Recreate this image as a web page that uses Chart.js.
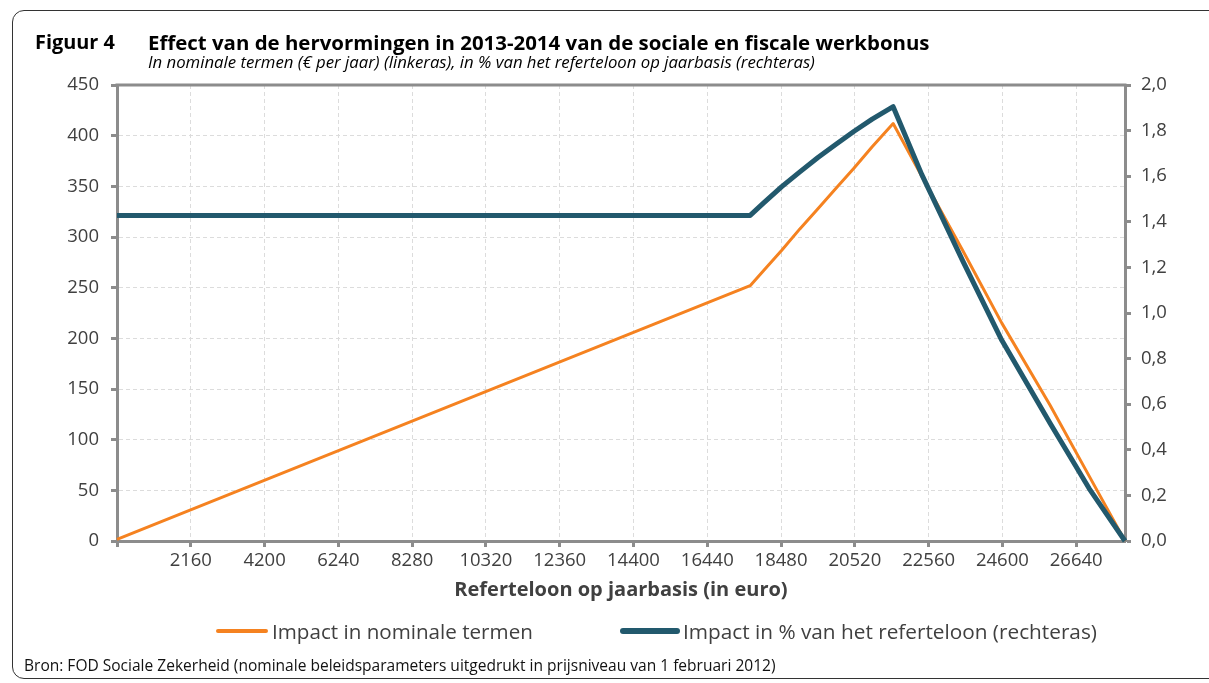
<!DOCTYPE html>
<html>
<head>
<meta charset="utf-8">
<script src="https://cdn.jsdelivr.net/npm/chart.js@4.4.1/dist/chart.umd.min.js"></script>
<style>
  body { margin: 0; background: #fff; }
  #wrap { position: relative; width: 1209px; height: 683px; overflow: hidden; }
  #frame { position: absolute; left: 12px; top: 10px; width: 1240px; height: 667px;
           border: 1.5px solid #333; border-radius: 12px; }
  #chart { position: absolute; left: 0; top: 0; }
  .t { position: absolute; white-space: nowrap; color: #000; line-height: 1; }
  #fig { left: 35px; top: 28px; font: bold 18px "Open Sans", sans-serif; }
  #title { left: 148px; top: 28px; font: bold 18px "Open Sans", sans-serif; }
  #sub { left: 148px; top: 50px; font: italic 13px "Open Sans", sans-serif; }
  #src { left: 24px; top: 654px; font: 13px "Open Sans", sans-serif; color: #111; }
  .leg { position: absolute; top: 620px; font: 19px "Open Sans", sans-serif; color: #404040;
         white-space: nowrap; line-height: 22px; }
  .leg i { position: absolute; border-radius: 3px; }
</style>
</head>
<body>
<div id="wrap">
  <div id="frame"></div>
  <canvas id="chart" width="1209" height="683"></canvas>
  <div class="t" id="fig">Figuur 4</div>
  <div class="t" id="title">Effect van de hervormingen in 2013-2014 van de sociale en fiscale werkbonus</div>
  <div class="t" id="sub">In nominale termen (€ per jaar) (linkeras), in % van het referteloon op jaarbasis (rechteras)</div>
  <div class="leg" id="leg1" style="left:272px"><i style="left:-56px;top:9px;width:52px;height:4px;background:#f58220"></i>Impact in nominale termen</div>
  <div class="leg" id="leg2" style="left:683px"><i style="left:-63px;top:8px;width:60px;height:6px;background:#22596d"></i>Impact in % van het referteloon (rechteras)</div>
  <div class="t" id="src">Bron: FOD Sociale Zekerheid (nominale beleidsparameters uitgedrukt in prijsniveau van 1 februari 2012)</div>
</div>
<script>
// data
let wages = [120, 17626, 18000, 18500, 19000, 19500, 20000, 20500, 21000, 21580, 22372, 23500, 24584, 25919, 27000, 27990];
let impactEuro = [1.7, 252, 267, 287, 308, 328, 348, 368, 389, 412, 360, 287, 215, 134, 64, 0];
let impactPct = [1.428, 1.428, 1.483, 1.554, 1.619, 1.682, 1.74, 1.797, 1.85, 1.905, 1.607, 1.23, 0.88, 0.516, 0.23, 0];

let xTicks = [120, 2160, 4200, 6240, 8280, 10320, 12360, 14400, 16440, 18480, 20520, 22560, 24600, 26640];
let leftTicks = [0, 50, 100, 150, 200, 250, 300, 350, 400, 450];
let rightTicks = [0, 0.2, 0.4, 0.6, 0.8, 1.0, 1.2, 1.4, 1.6, 1.8, 2.0];

// stretch the html texts to the widths they have in the original figure
function fitWidth(id, w) {
  let el = document.getElementById(id);
  let size = parseFloat(getComputedStyle(el).fontSize);
  let now = el.getBoundingClientRect().width;
  el.style.fontSize = (size * w / now).toFixed(2) + "px";
}
fitWidth("fig", 80);
fitWidth("title", 782);
fitWidth("sub", 667);
fitWidth("src", 752);
fitWidth("leg1", 261);
fitWidth("leg2", 414);

const axisGray = "#8c8c8c";
const gridGray = "#dcdcdc";
const tickFont = { family: "Open Sans", size: 18.5 };

function axisStyle() {
  return {
    grid: { color: gridGray, lineWidth: 1, tickColor: axisGray, tickWidth: 3, tickLength: 6 },
    border: { color: axisGray, width: 3, dash: [4, 3] },
    ticks: { font: tickFont, color: "#404040", autoSkip: false, maxRotation: 0 }
  };
}

// gray line closing the top of the plot area
const topLine = {
  id: "topLine",
  beforeDatasetsDraw(chart) {
    let a = chart.chartArea;
    let ctx = chart.ctx;
    ctx.save();
    ctx.strokeStyle = axisGray;
    ctx.lineWidth = 3;
    ctx.beginPath();
    ctx.moveTo(a.left - 1.5, a.top);
    ctx.lineTo(a.right + 1.5, a.top);
    ctx.stroke();
    ctx.restore();
  }
};

let x = axisStyle();
x.type = "linear";
x.min = 120;
x.max = 27990;
x.afterBuildTicks = s => { s.ticks = xTicks.map(v => ({ value: v })); };
x.ticks.callback = v => (v === 120 ? "" : String(v));
x.ticks.padding = 3;
x.title = { display: true, text: "Referteloon op jaarbasis (in euro)",
            font: { family: "Open Sans", size: 20, weight: "bold" }, color: "#404040",
            padding: { top: 4, bottom: 4 } };
x.afterFit = s => { s.height = 65; };

let y = axisStyle();
y.position = "left";
y.min = 0;
y.max = 450;
y.afterBuildTicks = s => { s.ticks = leftTicks.map(v => ({ value: v })); };
y.ticks.padding = 12;
y.afterFit = s => { s.width = 117; };

let y1 = axisStyle();
y1.position = "right";
y1.min = 0;
y1.max = 2;
y1.grid.drawOnChartArea = false;
y1.afterBuildTicks = s => { s.ticks = rightTicks.map(v => ({ value: v })); };
y1.ticks.callback = v => v.toFixed(1).replace(".", ",");
y1.ticks.padding = 10;
y1.afterFit = s => { s.width = 84; };

new Chart(document.getElementById("chart"), {
  type: "line",
  data: {
    datasets: [
      {
        label: "Impact in nominale termen",
        data: wages.map((w, i) => ({ x: w, y: impactEuro[i] })),
        yAxisID: "y",
        borderColor: "#f58220",
        borderWidth: 3,
        order: 2
      },
      {
        label: "Impact in % van het referteloon (rechteras)",
        data: wages.map((w, i) => ({ x: w, y: impactPct[i] })),
        yAxisID: "y1",
        borderColor: "#22596d",
        borderWidth: 5,
        order: 1
      }
    ]
  },
  options: {
    responsive: false,
    animation: false,
    clip: false,
    elements: { point: { radius: 0 }, line: { tension: 0, borderJoinStyle: "round" } },
    layout: { padding: { top: 85, left: 0, right: 0, bottom: 77 } },
    plugins: { legend: { display: false }, tooltip: { enabled: false } },
    scales: { x, y, y1 }
  },
  plugins: [topLine]
});
</script>
</body>
</html>
